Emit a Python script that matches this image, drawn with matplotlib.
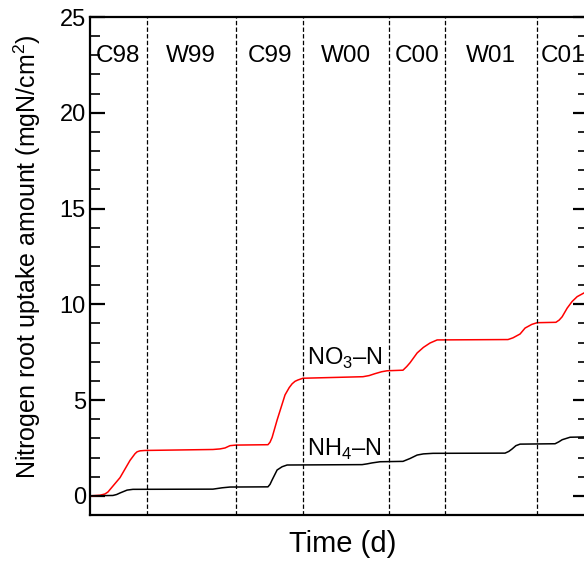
import numpy as np
import matplotlib
matplotlib.use('Agg')
import matplotlib.pyplot as plt
from matplotlib.ticker import MultipleLocator

plt.rcParams['font.family'] = ['Liberation Sans', 'DejaVu Sans']
plt.rcParams['mathtext.fontset'] = 'custom'
plt.rcParams['mathtext.rm'] = 'Liberation Sans'

# season boundaries (days) and labels
boundaries = [136, 350, 512, 717, 852, 1073]
seasons = ['C98', 'W99', 'C99', 'W00', 'C00', 'W01', 'C01']
season_edges = [0] + boundaries + [1195]

# NO3-N cumulative uptake (mgN/cm2)
no3_day = [0, 24, 36, 43, 72, 96, 108, 113, 120, 132, 295, 312, 324, 336, 350, 427, 432,
           437, 449, 468, 478, 485, 492, 499, 511, 655, 670, 684, 700, 713, 751, 760, 768,
           785, 800, 816, 833, 1003, 1015, 1032, 1044, 1060, 1073, 1118, 1126, 1133, 1145,
           1157, 1169, 1186, 1195]
no3_val = [0.0, 0.03, 0.1, 0.2, 0.95, 1.85, 2.2, 2.3, 2.35, 2.37, 2.42, 2.45, 2.5, 2.62,
           2.65, 2.67, 2.8, 3.05, 3.96, 5.27, 5.65, 5.85, 5.98, 6.05, 6.14, 6.22, 6.28,
           6.38, 6.48, 6.53, 6.56, 6.75, 6.95, 7.46, 7.75, 7.98, 8.14, 8.16, 8.25, 8.45,
           8.76, 8.95, 9.04, 9.06, 9.18, 9.35, 9.8, 10.15, 10.4, 10.6, 10.65]

# NH4-N cumulative uptake (mgN/cm2)
nh4_day = [0, 55, 64, 72, 89, 103, 295, 317, 336, 427, 432, 437, 449, 461, 473, 653, 665,
           677, 696, 751, 768, 785, 800, 823, 996, 1005, 1013, 1022, 1032, 1116, 1125, 1133,
           1152, 1195]
nh4_val = [0.0, 0.02, 0.07, 0.15, 0.3, 0.34, 0.35, 0.42, 0.46, 0.47, 0.6, 0.83, 1.35,
           1.52, 1.61, 1.63, 1.67, 1.72, 1.78, 1.8, 1.95, 2.13, 2.19, 2.22, 2.23, 2.32,
           2.45, 2.62, 2.7, 2.72, 2.82, 2.93, 3.06, 3.08]

W, H = 584, 567
fig = plt.figure(figsize=(W / 100, H / 100), dpi=100)
ax = fig.add_axes([90 / W, (H - 515) / H, 498 / W, 498 / H])

ax.plot(no3_day, no3_val, color='#ff0000', lw=1.1)
ax.plot(nh4_day, nh4_val, color='black', lw=1.1)

for b in boundaries:
    ax.axvline(b, color='black', lw=0.9, ls=(0, (3.5, 1.8)))

for i, s in enumerate(seasons):
    xc = (season_edges[i] + season_edges[i + 1]) / 2
    ax.text(xc, 22.95, s, ha='center', va='center', fontsize=17.5)

ax.text(521, 6.83, r'NO$_3$–N', fontsize=17, va='baseline', ha='left')
ax.text(521, 2.1, r'NH$_4$–N', fontsize=17, va='baseline', ha='left')

ax.set_xlim(0, 1195)
ax.set_ylim(-1, 25)
ax.yaxis.set_major_locator(MultipleLocator(5))
ax.yaxis.set_minor_locator(MultipleLocator(1))
ax.set_xticks([])
ax.tick_params(axis='y', which='both', direction='in', left=True, right=True)
ax.tick_params(axis='y', which='major', length=11, width=1.6, labelsize=17, pad=3)
ax.tick_params(axis='y', which='minor', length=7.5, width=1.2)
for sp in ax.spines.values():
    sp.set_linewidth(1.6)

ax.set_ylabel('Nitrogen root uptake amount (mgN/cm$^2$)', fontsize=18)
ax.yaxis.set_label_coords(-0.094, 0.519)
ax.set_xlabel('Time (d)', fontsize=21)
ax.xaxis.set_label_coords(0.507, -0.03)

fig.savefig('out.png', dpi=100)
